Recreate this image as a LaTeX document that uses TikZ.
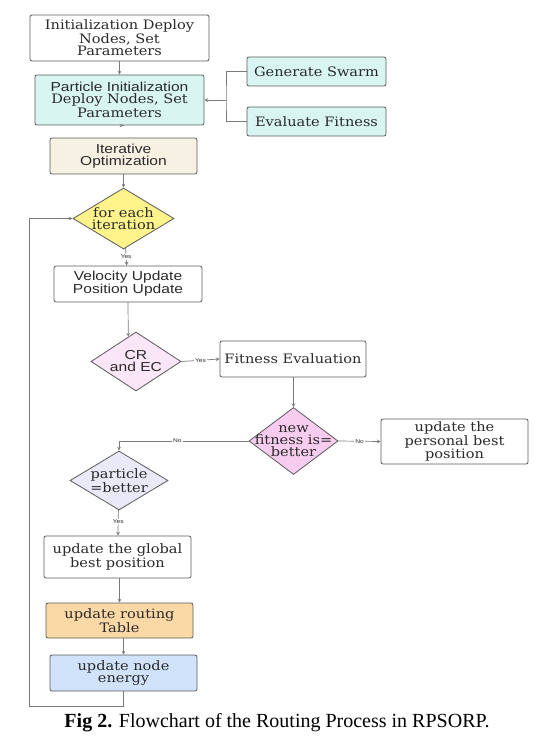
\documentclass[tikz,border=0pt]{standalone}
\usepackage{fontspec}
\setmainfont{DejaVu Serif}[FakeStretch=1.12]
\setsansfont{Liberation Sans}[FakeStretch=1.2]
\newfontfamily\capfont{Liberation Serif}
\usepackage{tikz}
\usetikzlibrary{arrows,shapes.geometric,positioning,calc}

\definecolor{boxgray}{HTML}{5A5A5A}
\definecolor{linegray}{HTML}{7A7A7A}
\definecolor{txtgray}{HTML}{2A2A2A}
\definecolor{swarmcyan}{HTML}{D8F5F2}
\definecolor{iterbeige}{HTML}{F6F1E2}
\definecolor{loopyellow}{HTML}{FFF38C}
\definecolor{crpink}{HTML}{FAE6F6}
\definecolor{fitpink}{HTML}{F7CCEF}
\definecolor{partlav}{HTML}{E9E9F8}
\definecolor{routorange}{HTML}{FAD9A6}
\definecolor{energyblue}{HTML}{D0E3FA}

\newcommand{\serifsz}{\fontsize{13}{13.5}\selectfont}
\newcommand{\sanssz}{\sffamily\fontsize{13}{13}\selectfont}

\begin{document}
\begin{tikzpicture}
	[x=1pt, y=-1pt, inner sep=0pt, text=txtgray,
	box/.style		= {rectangle, rounded corners=2pt, draw=boxgray, line width=0.8pt, align=center, minimum width=147pt, minimum height=36pt},
	decision/.style	= {diamond, draw=boxgray, line width=0.8pt, align=center, inner sep=-14pt},
	paths/.style	= {->, >=stealth, draw=linegray, line width=0.7pt},
	lines/.style	= {draw=linegray, line width=0.7pt},
	answer/.style	= {fill=white, inner sep=1pt, font=\sffamily\fontsize{5.5}{6}\selectfont}]
	
	\useasboundingbox (0,0) rectangle (557,751);
	
	\node at (119.5, 38)	[box, minimum width=179pt, minimum height=46pt]				(init)	{\serifsz Initialization Deploy\\ \serifsz Nodes, Set\\ \serifsz Parameters};
	\node at (119.5, 100)	[box, minimum width=169pt, minimum height=50pt, fill=swarmcyan]	(part)	{\sanssz Particle Initialization\\ \serifsz Deploy Nodes, Set\\ \serifsz Parameters};
	\node at (316.5, 71.5)	[box, minimum width=139pt, minimum height=29pt, fill=swarmcyan]	(gen)	{\serifsz Generate Swarm};
	\node at (316.5, 121.5)	[box, minimum width=139pt, minimum height=29pt, fill=swarmcyan]	(eval)	{\serifsz Evaluate Fitness};
	\node at (123.5, 156)	[box, fill=iterbeige]		(iter)	{\sanssz Iterative\\ \sanssz Optimization};
	
	\node at (123.5, 218.5)	[decision, minimum width=101pt, minimum height=61pt, fill=loopyellow]	(each)	{\serifsz for each\\ \serifsz iteration};
	\node at (128, 284)		[box, minimum width=148pt]	(vel)	{\sanssz Velocity Update\\ \sanssz Position Update};
	\node at (136, 361.5)	[decision, minimum width=90pt, minimum height=59pt, fill=crpink]	(cr)	{\sanssz CR\\ \sanssz and EC};
	\node at (293, 359)		[box, minimum width=146pt]	(fit)	{\serifsz Fitness Evaluation};
	\node at (293.5, 441)	[decision, minimum width=89pt, minimum height=67pt, fill=fitpink]	(better)	{\serifsz new\\ \serifsz fitness is=\\ \serifsz better};
	\node at (454.5, 441.5)	[box, minimum height=45pt]	(pbest)	{\serifsz update the\\ \serifsz personal best\\ \serifsz position};
	\node at (119, 480.5)	[decision, minimum width=98pt, minimum height=59pt, fill=partlav]	(pcheck)	{\serifsz particle\\ \serifsz =better};
	\node at (117.5, 557)	[box, minimum height=42pt]	(gbest)	{\serifsz update the global\\ \serifsz best position};
	\node at (119.5, 620.5)	[box, minimum height=35pt, fill=routorange]	(route)	{\serifsz update routing\\ \serifsz Table};
	\node at (123.5, 673)	[box, fill=energyblue]		(energy)	{\serifsz update node\\ \serifsz energy};
	
	\node at (277, 723)		(caption)	{\capfont\fontsize{20}{22}\selectfont\textcolor{black}{\textbf{Fig 2.} Flowchart of the Routing Process in RPSORP.}};
	
	\coordinate (join) at (226, 100);
	\coordinate (loopa) at (123.5, 706);
	\coordinate (loopb) at (29.5, 706);
	\coordinate (nobend) at (119, 441);
	
	\draw [paths] (init) -- (part);
	\draw [lines] (gen.west) -| (join) |- (eval.west);
	\draw [paths] (join) -- (part.east);
	\draw [paths] (part) -- (part.south -| iter.north) ;
	\draw [paths] (iter) -- (each);
	
	\draw [paths] (each) -- (vel) node [answer, midway] {Yes};
	\draw [paths] (vel.south) -- ($(cr.north)!0.17!(cr.west)$);
	\draw [paths] (cr.east) -- (fit.west) node [answer, midway] {Yes};
	\draw [paths] (fit.south -| better.north) -- (better.north);
	\draw [paths] (better.east) -- (pbest.west) node [answer, midway] {No};
	\draw [paths] (better.west) -- (nobend) node [answer, pos=0.55] {No} -- (pcheck.north);
	\draw [paths] (pcheck) -- (gbest) node [answer, pos=0.45] {Yes};
	\draw [paths] (gbest.south -| route.north) -- (route.north);
	\draw [paths] (route.south -| energy.north) -- (energy.north);
	
	\draw [paths] (energy.south) -- (loopa) -- (loopb) |- (each.west);
	\end{tikzpicture}
\end{document}
